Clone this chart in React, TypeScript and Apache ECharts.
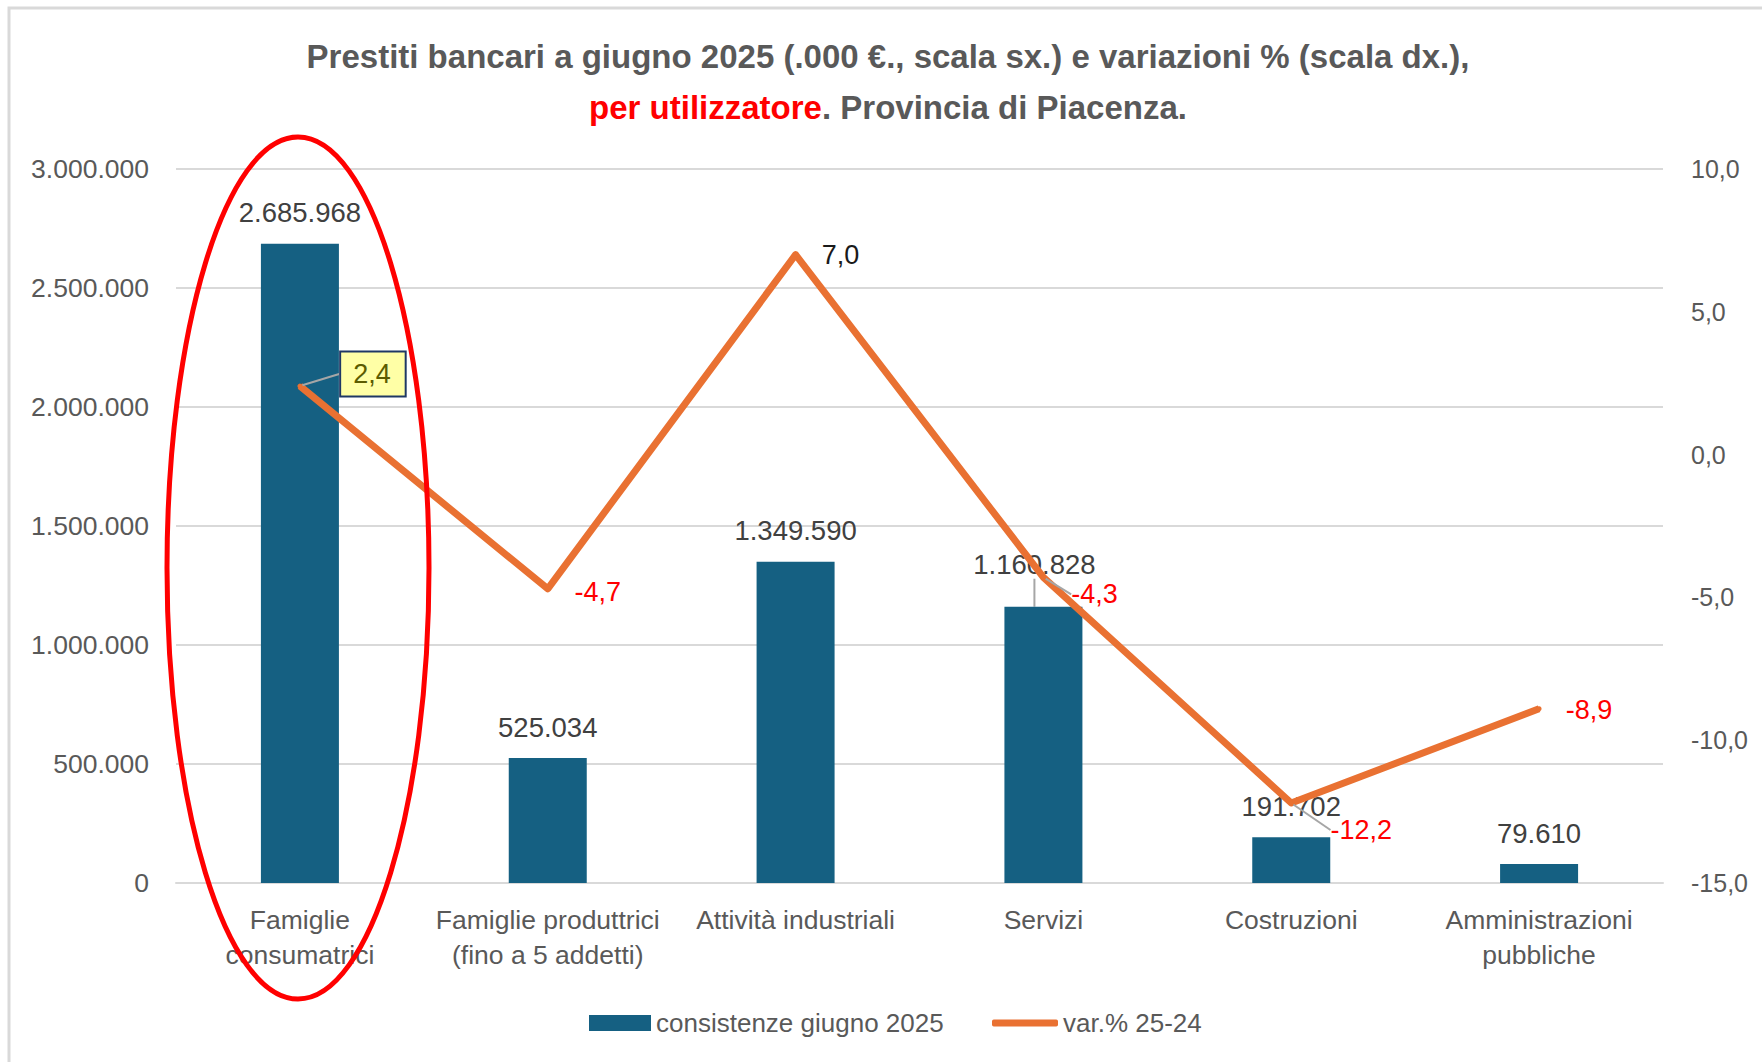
import React, { useEffect, useRef } from "react";
import * as echarts from "echarts";

const categories = [
  "Famiglie\nconsumatrici",
  "Famiglie produttrici\n(fino a 5 addetti)",
  "Attività industriali",
  "Servizi",
  "Costruzioni",
  "Amministrazioni\npubbliche",
];
const loans = [2685968, 525034, 1349590, 1160828, 191702, 79610];
const variations = [2.4, -4.7, 7.0, -4.3, -12.2, -8.9];

const leftAxis = { min: 0, max: 3000000, interval: 500000 };
const rightAxis = { min: -15, max: 10, interval: 5 };

const barName = "consistenze giugno 2025";
const lineName = "var.% 25-24";

// label placement (pixel shifts) – layout only
const lineLabelShift = [[73, -12], [50, 3], [45, 0], [51, 17], [70, 27], [50, 1]];
const lineLabelGuide = [true, false, false, true, true, false];
const lineLabelColor = ["#5C5C00", "#FF0000", "#1A1A1A", "#FF0000", "#FF0000", "#FF0000"];
const barLabelShift = [[0, 0], [0, 0], [0, 0], [-9, -11], [0, 0], [0, 0]];
const barLabelGuide = [false, false, false, true, false, false];

const FONT = "'Liberation Sans', Arial, sans-serif";
const GRAY = "#595959";

const fmtThousands = (v: number) =>
  Math.round(v).toString().replace(/\B(?=(\d{3})+(?!\d))/g, ".");
const fmtPct = (v: number) => v.toFixed(1).replace(".", ",");

export default function App() {
  const ref = useRef<HTMLDivElement>(null);
  useEffect(() => {
    if (!ref.current) return;
    const chart = echarts.init(ref.current, null, { renderer: "svg" });
    const option: any = {
      animation: false,
      backgroundColor: "#ffffff",
      title: {
        left: 883,
        top: 26,
        textAlign: "center",
        text:
          "{a|Prestiti bancari a giugno 2025 (.000 €., scala sx.) e variazioni % (scala dx.),}\n{r|per utilizzatore}{a|. Provincia di Piacenza.}",
        textStyle: {
          rich: {
            a: { fontSize: 33, fontWeight: "bold", color: GRAY, lineHeight: 51, fontFamily: FONT },
            r: { fontSize: 33, fontWeight: "bold", color: "#FF0000", lineHeight: 51, fontFamily: FONT },
          },
        },
      },
      legend: [
        {
          data: [{ name: barName, icon: "rect" }],
          left: 584,
          top: 1005,
          itemWidth: 62,
          itemHeight: 16,
          textStyle: { fontSize: 26, color: GRAY, fontFamily: FONT },
        },
        {
          data: [{ name: lineName, icon: "roundRect" }],
          left: 987,
          top: 1005,
          itemWidth: 66,
          itemHeight: 7,
          textStyle: { fontSize: 26, color: GRAY, fontFamily: FONT },
        },
      ],
      grid: { left: 176, right: 99, top: 169, bottom: 179, containLabel: false },
      xAxis: {
        type: "category",
        data: categories,
        axisLine: { lineStyle: { color: "#D9D9D9", width: 2 } },
        axisTick: { show: false },
        axisLabel: {
          color: GRAY,
          fontSize: 26.5,
          fontFamily: FONT,
          lineHeight: 35,
          margin: 19,
          interval: 0,
        },
      },
      yAxis: [
        {
          type: "value",
          min: leftAxis.min,
          max: leftAxis.max,
          interval: leftAxis.interval,
          axisLine: { show: false },
          axisTick: { show: false },
          splitLine: { lineStyle: { color: "#D9D9D9", width: 2 } },
          axisLabel: {
            color: GRAY,
            fontSize: 26.5,
            fontFamily: FONT,
            margin: 27,
            formatter: (v: number) => fmtThousands(v),
          },
        },
        {
          type: "value",
          min: rightAxis.min,
          max: rightAxis.max,
          interval: rightAxis.interval,
          axisLine: { show: false },
          axisTick: { show: false },
          splitLine: { show: false },
          axisLabel: {
            color: GRAY,
            fontSize: 25,
            fontFamily: FONT,
            margin: 28,
            formatter: (v: number) => fmtPct(v),
          },
        },
      ],
      series: [
        {
          name: barName,
          type: "bar",
          yAxisIndex: 0,
          barWidth: 78,
          itemStyle: { color: "#156082" },
          data: loans.map((v, i) => ({
            value: v,
            labelLine: { show: barLabelGuide[i] },
          })),
          label: {
            show: true,
            position: "top",
            distance: 17,
            color: "#404040",
            fontSize: 27.5,
            fontFamily: FONT,
            formatter: (p: any) => fmtThousands(p.value),
          },
          labelLine: { show: true, lineStyle: { color: "#A6A6A6", width: 2 } },
          labelLayout: (p: any) => {
            const s = barLabelShift[p.dataIndex];
            return s[0] || s[1] ? { dx: s[0], dy: s[1] } : {};
          },
        },
        {
          name: lineName,
          type: "line",
          yAxisIndex: 1,
          symbol: "circle",
          symbolSize: 5,
          itemStyle: { color: "#E97132" },
          lineStyle: { color: "#E97132", width: 7, join: "round" },
          z: 5,
          data: variations.map((v, i) => ({
            value: v,
            labelLine: { show: lineLabelGuide[i] },
            label:
              i === 0
                ? {
                    color: lineLabelColor[i],
                    backgroundColor: "#FFFFA6",
                    borderColor: "#1F3864",
                    borderWidth: 2,
                    padding: [8, 14, 8, 12],
                  }
                : { color: lineLabelColor[i] },
          })),
          label: {
            show: true,
            position: "inside",
            fontSize: 27,
            fontFamily: FONT,
            formatter: (p: any) => fmtPct(p.value),
          },
          labelLine: { show: true, lineStyle: { color: "#A6A6A6", width: 2 } },
          labelLayout: (p: any) => {
            const s = lineLabelShift[p.dataIndex];
            return { dx: s[0], dy: s[1] };
          },
        },
      ],
      graphic: [
        {
          type: "rect",
          z: -10,
          silent: true,
          shape: { x: 9, y: 8, width: 1800, height: 1100 },
          style: { fill: "none", stroke: "#D9D9D9", lineWidth: 3 },
        },
        {
          type: "ellipse",
          z: 100,
          silent: true,
          shape: { cx: 298, cy: 568, rx: 131, ry: 431 },
          style: { fill: "none", stroke: "#FF0000", lineWidth: 5 },
        },
      ],
    };
    chart.setOption(option);
    return () => chart.dispose();
  }, []);
  return (
    <div
      ref={ref}
      style={{ position: "fixed", left: 0, top: 0, width: 1762, height: 1062, background: "#fff" }}
    />
  );
}
